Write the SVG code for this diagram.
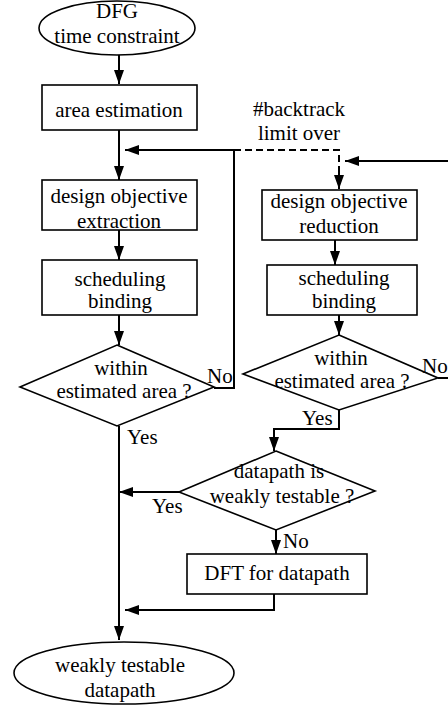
<svg xmlns="http://www.w3.org/2000/svg" width="448" height="708" viewBox="0 0 448 708">
<defs>
<style>
.n{fill:#fff;stroke:#000;stroke-width:1.6}
.c{fill:none;stroke:#000;stroke-width:2}
.d{fill:none;stroke:#000;stroke-width:2;stroke-dasharray:7 4}
</style>
<marker id="ah" markerWidth="14" markerHeight="10" refX="14" refY="5" orient="auto" markerUnits="userSpaceOnUse"><path d="M0,0 L14,5 L0,10 z" fill="#000"/></marker>
</defs>
<rect width="448" height="708" fill="#fff"/>
<g id="connectors">
<path class="c" d="M119,55 V84" marker-end="url(#ah)"/>
<path class="c" d="M119,130 V180" marker-end="url(#ah)"/>
<path class="c" d="M214,388 H234 V150 H125" marker-end="url(#ah)"/>
<path class="d" d="M234,150 H339 V172"/>
<path class="c" d="M339,170 V189" marker-end="url(#ah)"/>
<path class="c" d="M119,230 V260" marker-end="url(#ah)"/>
<path class="c" d="M119,315 V345" marker-end="url(#ah)"/>
<path class="c" d="M119,426 V640" marker-end="url(#ah)"/>
<path class="c" d="M448,161 H345" marker-end="url(#ah)"/>
<path class="c" d="M335,240 V265" marker-end="url(#ah)"/>
<path class="c" d="M339,315 V335" marker-end="url(#ah)"/>
<path class="c" d="M438,378 H448"/>
<path class="c" d="M339,410 V429 H274 V451" marker-end="url(#ah)"/>
<path class="c" d="M179,492 H119" marker-end="url(#ah)"/>
<path class="c" d="M276,530 V554" marker-end="url(#ah)"/>
<path class="c" d="M274,594 V610 H125" marker-end="url(#ah)"/>
</g>
<g font-family="Liberation Serif, DejaVu Serif, serif" font-size="21" fill="#000" text-anchor="middle">
<g id="start"><ellipse class="n" cx="117" cy="28" rx="78" ry="27"/><text x="117" y="18">DFG</text><text x="117" y="43">time constraint</text></g>
<g id="area-estimation"><rect class="n" x="42" y="85" width="155" height="45"/><text x="119" y="117">area estimation</text></g>
<g id="backtrack-label"><text x="299" y="116">#backtrack</text><text x="299" y="140">limit over</text></g>
<g id="objective-extraction"><rect class="n" x="42" y="180" width="155" height="50"/><text x="119" y="203">design objective</text><text x="119" y="228">extraction</text></g>
<g id="scheduling-1"><rect class="n" x="42" y="260" width="155" height="55"/><text x="120" y="286">scheduling</text><text x="120" y="308">binding</text></g>
<g id="area-check-1"><polygon class="n" points="117,345 214,387 117,426 20,387"/><text x="121" y="375">within</text><text x="124" y="398">estimated area ?</text><text x="207" y="383" text-anchor="start">No</text><text x="127" y="444" text-anchor="start">Yes</text></g>
<g id="objective-reduction"><rect class="n" x="262" y="190" width="155" height="50"/><text x="339" y="208">design objective</text><text x="339" y="233">reduction</text></g>
<g id="scheduling-2"><rect class="n" x="267" y="265" width="150" height="50"/><text x="344" y="285">scheduling</text><text x="344" y="308">binding</text></g>
<g id="area-check-2"><polygon class="n" points="339,335 438,378 339,410 243,374"/><text x="341" y="365">within</text><text x="342" y="388">estimated area ?</text><text x="422" y="373" text-anchor="start">No</text><text x="302" y="425" text-anchor="start">Yes</text></g>
<g id="testable-check"><polygon class="n" points="276,451 375,491 276,530 179,492"/><text x="279" y="478">datapath is</text><text x="282" y="503">weakly testable ?</text><text x="152" y="513" text-anchor="start">Yes</text><text x="283" y="548" text-anchor="start">No</text></g>
<g id="dft"><rect class="n" x="187" y="554" width="180" height="40"/><text x="277" y="580">DFT for datapath</text></g>
<g id="end"><ellipse class="n" cx="124" cy="673" rx="110" ry="31"/><text x="120" y="672">weakly testable</text><text x="120" y="697">datapath</text></g>
</g>
</svg>
